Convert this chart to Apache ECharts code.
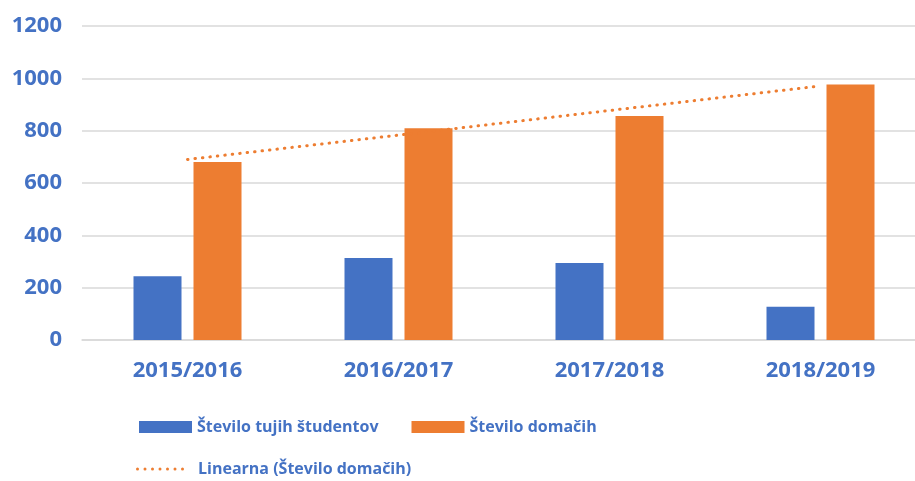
<!DOCTYPE html>
<html>
<head>
<meta charset="utf-8">
<script src="https://cdn.jsdelivr.net/npm/echarts@6/dist/echarts.min.js"></script>
<style>
  html, body { margin: 0; padding: 0; background: #fff; }
  #chart { width: 915px; height: 481px; }
</style>
</head>
<body>
<div id="chart"></div>
<script>
// podatki, odčitani s slike
const years = ['2015/2016', '2016/2017', '2017/2018', '2018/2019']
const tujiStudenti = [244, 313, 294, 127]
const domaciStudenti = [680, 809, 856, 976]
// linearni trend (Število domačih), odčitan s črte
const trendDomaci = [690, 783, 877, 971]

const BLUE = '#4472C4'
const ORANGE = '#ED7D31'
const FONT = '"Open Sans", "DejaVu Sans", sans-serif'

// ikona legende: vrsta pik (pikčasta črta)
let dotsPath = 'path://'
for (let i = 0; i < 7; i++) {
  const cx = 1.5 + i * 7.5
  dotsPath += 'M' + (cx - 1.5) + ' 1.5a1.5 1.5 0 1 0 3 0a1.5 1.5 0 1 0 -3 0Z'
}

const chart = echarts.init(document.getElementById('chart'))

const labelStyle = {
  color: BLUE,
  fontFamily: FONT,
  fontWeight: 'bold',
  fontSize: 22
}
const legendText = {
  color: BLUE,
  fontFamily: FONT,
  fontWeight: 'bold',
  fontSize: 16
}

const option = {
  animation: false,
  grid: {
    left: 82,
    width: 844,
    top: 26,
    bottom: 141,
    outerBoundsMode: 'none'
  },
  legend: [
    {
      data: ['Število tujih študentov', 'Število domačih'],
      left: 134,
      top: 414,
      itemWidth: 53,
      itemHeight: 12,
      itemGap: 33,
      icon: 'rect',
      textStyle: legendText
    },
    {
      data: [{ name: 'Linearna (Število domačih)', icon: dotsPath }],
      left: 131,
      top: 456,
      itemWidth: 48,
      itemHeight: 3,
      textStyle: Object.assign({ padding: [0, 0, 0, 9] }, legendText)
    }
  ],
  xAxis: {
    type: 'category',
    data: years,
    axisTick: { show: false },
    axisLine: { lineStyle: { color: '#D9D9D9', width: 1.5 } },
    axisLabel: Object.assign({ margin: 20 }, labelStyle)
  },
  yAxis: {
    type: 'value',
    min: 0,
    max: 1200,
    interval: 200,
    axisLine: { show: false },
    axisTick: { show: false },
    splitLine: { lineStyle: { color: '#D9D9D9', width: 1.5 } },
    axisLabel: Object.assign({ margin: 20, formatter: v => String(v) }, labelStyle)
  },
  series: [
    {
      name: 'Število tujih študentov',
      type: 'bar',
      barWidth: 48,
      barGap: '25%',
      itemStyle: { color: BLUE },
      data: tujiStudenti
    },
    {
      name: 'Število domačih',
      type: 'bar',
      barWidth: 48,
      barGap: '25%',
      itemStyle: { color: ORANGE },
      data: domaciStudenti
    },
    {
      name: 'Linearna (Število domačih)',
      type: 'line',
      symbol: 'none',
      z: 5,
      itemStyle: { color: ORANGE },
      lineStyle: {
        color: ORANGE,
        width: 3,
        type: [0.5, 7],
        cap: 'round'
      },
      data: trendDomaci
    }
  ]
}

chart.setOption(option)
</script>
</body>
</html>
